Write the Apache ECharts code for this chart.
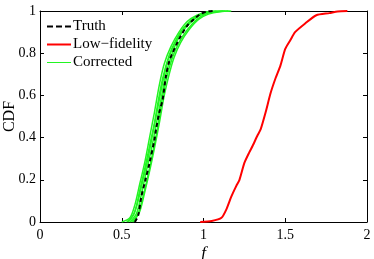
<!DOCTYPE html>
<html><head><meta charset="utf-8">
<script src="https://cdn.jsdelivr.net/npm/echarts@6/dist/echarts.min.js"></script>
<style>html,body{margin:0;padding:0;background:#fff}#c{width:374px;height:259px}</style>
</head><body><div id="c"></div>
<script>
const xTicks = [0, 0.5, 1, 1.5, 2];
const yTicks = [0, 0.2, 0.4, 0.6, 0.8, 1];
const truth = [[0.58,0],[0.60,0.03],[0.62,0.12],[0.645,0.2],[0.67,0.28],[0.70,0.39],[0.71,0.44],[0.73,0.52],[0.75,0.58],[0.77,0.69],[0.79,0.76],[0.81,0.80],[0.84,0.85],[0.86,0.88],[0.90,0.93],[0.94,0.96],[0.98,0.985],[1.02,0.997],[1.06,1]];
const lowFidelity = [[0.98,0],[1.05,0.005],[1.11,0.02],[1.14,0.06],[1.17,0.12],[1.20,0.17],[1.22,0.2],[1.25,0.28],[1.28,0.33],[1.30,0.36],[1.33,0.41],[1.35,0.44],[1.38,0.52],[1.41,0.61],[1.44,0.68],[1.47,0.74],[1.50,0.82],[1.53,0.86],[1.56,0.90],[1.62,0.94],[1.69,0.98],[1.77,0.99],[1.82,0.998],[1.88,1]];
const corrected1 = [[0.50,0],[0.55,0.02],[0.58,0.08],[0.61,0.18],[0.64,0.28],[0.67,0.40],[0.70,0.52],[0.73,0.65],[0.76,0.75],[0.80,0.83],[0.85,0.90],[0.90,0.95],[0.96,0.98],[1.02,0.995],[1.08,1]];
const corrected2 = [[0.53,0],[0.57,0.03],[0.60,0.10],[0.63,0.20],[0.66,0.30],[0.69,0.42],[0.72,0.54],[0.75,0.66],[0.78,0.76],[0.82,0.84],[0.87,0.91],[0.93,0.96],[0.99,0.985],[1.05,0.997],[1.12,1]];
const corrected3 = [[0.55,0],[0.59,0.04],[0.62,0.13],[0.65,0.24],[0.68,0.34],[0.71,0.46],[0.74,0.58],[0.77,0.70],[0.80,0.78],[0.84,0.86],[0.89,0.92],[0.95,0.965],[1.01,0.99],[1.08,0.998],[1.15,1]];
const corrected4 = [[0.57,0],[0.61,0.05],[0.64,0.14],[0.67,0.24],[0.70,0.35],[0.73,0.47],[0.76,0.60],[0.79,0.70],[0.82,0.78],[0.86,0.85],[0.91,0.91],[0.97,0.96],[1.03,0.985],[1.10,0.997],[1.17,1]];
const corrected5 = [[0.54,0],[0.58,0.05],[0.61,0.15],[0.64,0.25],[0.67,0.36],[0.70,0.47],[0.72,0.56],[0.75,0.68],[0.79,0.79],[0.83,0.86],[0.88,0.92],[0.94,0.96],[1.00,0.99],[1.06,0.998],[1.13,1]];
const corrected6 = [[0.56,0],[0.60,0.04],[0.63,0.12],[0.66,0.22],[0.69,0.33],[0.72,0.45],[0.74,0.55],[0.77,0.67],[0.81,0.78],[0.85,0.85],[0.90,0.91],[0.96,0.96],[1.02,0.988],[1.09,0.998],[1.16,1]];
const correctedSets = [corrected1, corrected2, corrected3, corrected4, corrected5, corrected6];

const FONT = 'Liberation Serif';
const chart = echarts.init(document.getElementById('c'), null, {renderer:'canvas'});
const axisBase = {
  min: 0, axisLine:{show:true, onZero:false, lineStyle:{color:'#000', width:1}},
  axisTick:{show:true, inside:true, length:4, lineStyle:{color:'#000'}},
  splitLine:{show:false}
};
const fmt = v => { for (const t of xTicks.concat(yTicks)) if (Math.abs(t - v) < 1e-9) return String(t); return ''; };
const series = [];
correctedSets.forEach(d => series.push({
  name:'Corrected', type:'line', data:d, symbol:'none', smooth:0.3, silent:true,
  lineStyle:{color:'#22f522', width:1.5}, itemStyle:{color:'#22f522'}, z:2
}));
series.push({name:'Truth', type:'line', data:truth, symbol:'none', smooth:0.3,
  lineStyle:{color:'#000', width:2, type:[4,3]}, itemStyle:{color:'#000'}, z:4});
series.push({name:'Low\u2212fidelity', type:'line', data:lowFidelity, symbol:'none', smooth:0.2,
  lineStyle:{color:'#ff0000', width:2}, itemStyle:{color:'#ff0000'}, z:3});

const solidIcon = 'path://M0,0 L24,0 L24,2 L0,2 Z';
const thinIcon = 'path://M0,0 L24,0 L24,1 L0,1 Z';
const dashIcon = 'path://M0,0 L6,0 L6,2 L0,2 Z M9,0 L15,0 L15,2 L9,2 Z M18,0 L24,0 L24,2 L18,2 Z';

chart.setOption({
  animation:false,
  grid:{left:40, right:7, top:11, bottom:37, containLabel:false, outerBoundsMode:'none'},
  legend:{
    data:[{name:'Truth', icon:dashIcon},{name:'Low\u2212fidelity', icon:solidIcon},{name:'Corrected', icon:thinIcon}],
    orient:'vertical', left:47, top:19, padding:0,
    itemWidth:24, itemHeight:2, itemGap:3,
    textStyle:{fontFamily:FONT, fontSize:15, color:'#000', padding:[0,0,0,-3]}
  },
  xAxis:[
    Object.assign({}, axisBase, {type:'value', max:2, interval:0.5, position:'bottom',
      name:'f', nameLocation:'middle', nameGap:23, nameMoveOverlap:false,
      nameTextStyle:{fontFamily:FONT, fontSize:17, fontStyle:'italic', color:'#000'},
      axisLabel:{fontFamily:FONT, fontSize:14, color:'#000', margin:6, formatter:fmt}}),
    Object.assign({}, axisBase, {type:'value', max:2, interval:0.5, position:'top', axisLabel:{show:false}})
  ],
  yAxis:[
    Object.assign({}, axisBase, {type:'value', max:1, interval:0.2, position:'left',
      name:'CDF', nameLocation:'middle', nameGap:22, nameMoveOverlap:false,
      nameTextStyle:{fontFamily:FONT, fontSize:16, color:'#000'},
      axisLabel:{fontFamily:FONT, fontSize:14, color:'#000', margin:4, formatter:fmt}}),
    Object.assign({}, axisBase, {type:'value', max:1, interval:0.2, position:'right', axisLabel:{show:false}})
  ],
  series: series
});
</script></body></html>
